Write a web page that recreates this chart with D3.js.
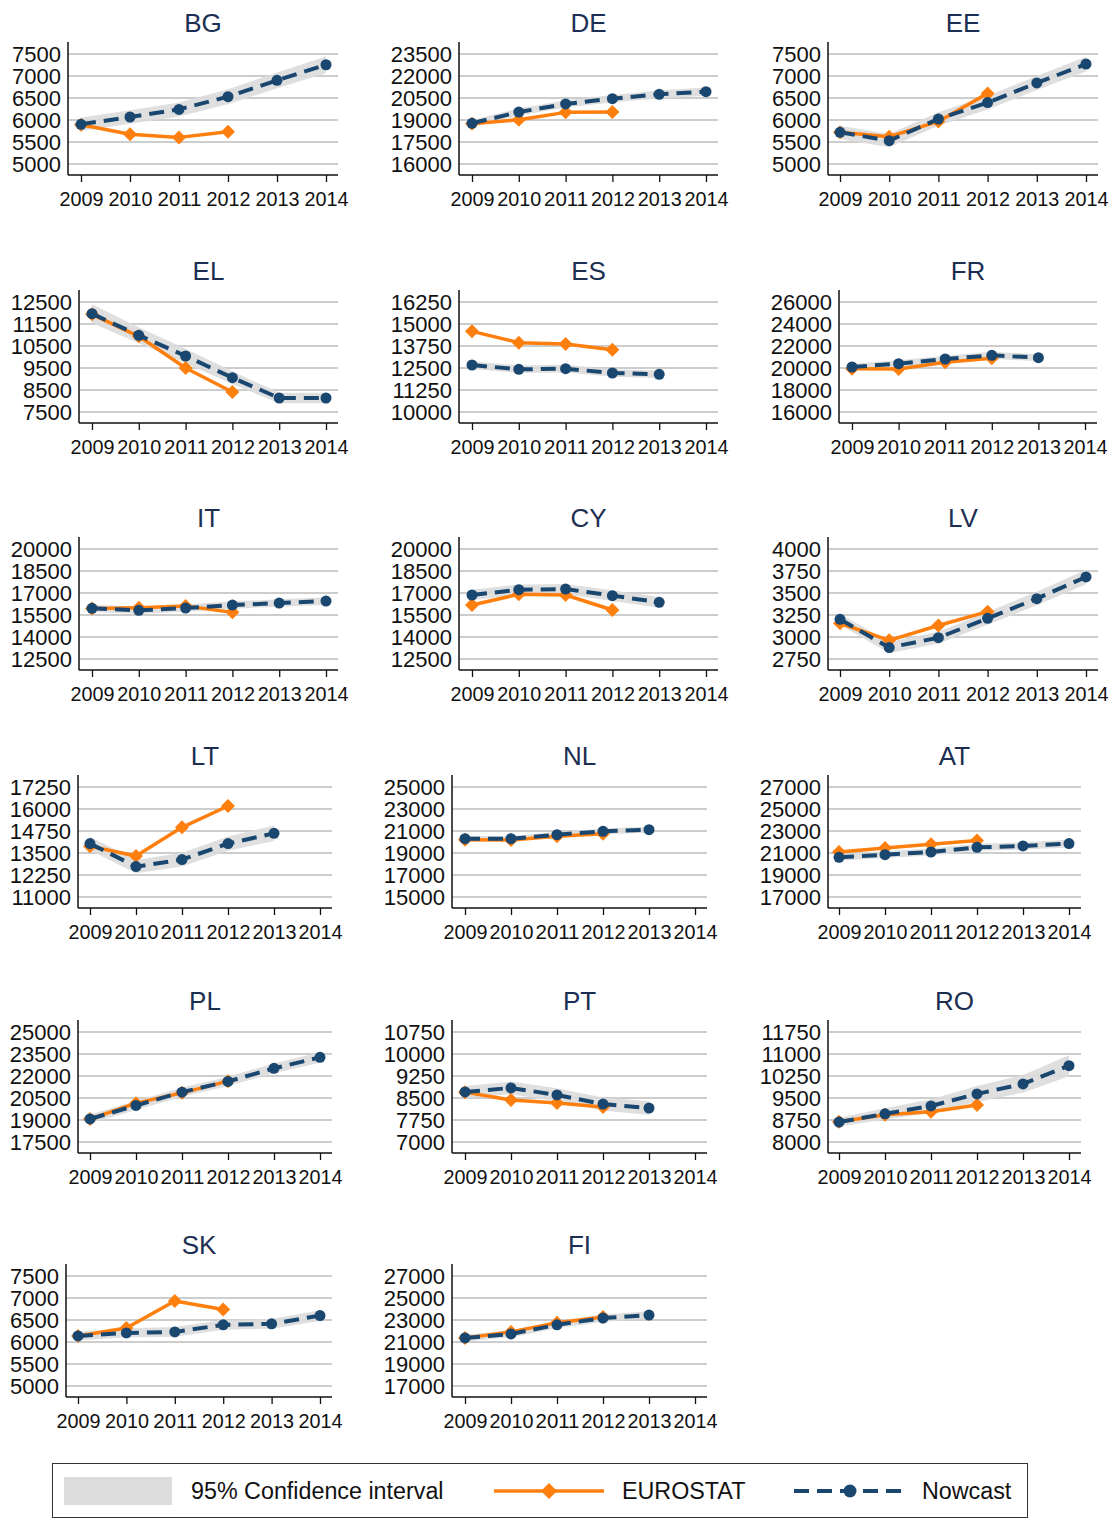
<!DOCTYPE html>
<html>
<head>
<meta charset="utf-8">
<script src="https://cdn.jsdelivr.net/npm/d3@7"></script>
<style>
  body { margin: 0; background: #fff; }
  svg { display: block; font-family: "Liberation Sans", Arial, sans-serif; }
</style>
</head>
<body>
<div id="chart"></div>
<script>
// ---- data ----
const years = [2009, 2010, 2011, 2012, 2013, 2014];
const countries = ["BG", "DE", "EE", "EL", "ES", "FR", "IT", "CY", "LV", "LT", "NL", "AT", "PL", "PT", "RO", "SK", "FI"];

const yTicks = [
  [5000, 5500, 6000, 6500, 7000, 7500],
  [16000, 17500, 19000, 20500, 22000, 23500],
  [5000, 5500, 6000, 6500, 7000, 7500],
  [7500, 8500, 9500, 10500, 11500, 12500],
  [10000, 11250, 12500, 13750, 15000, 16250],
  [16000, 18000, 20000, 22000, 24000, 26000],
  [12500, 14000, 15500, 17000, 18500, 20000],
  [12500, 14000, 15500, 17000, 18500, 20000],
  [2750, 3000, 3250, 3500, 3750, 4000],
  [11000, 12250, 13500, 14750, 16000, 17250],
  [15000, 17000, 19000, 21000, 23000, 25000],
  [17000, 19000, 21000, 23000, 25000, 27000],
  [17500, 19000, 20500, 22000, 23500, 25000],
  [7000, 7750, 8500, 9250, 10000, 10750],
  [8000, 8750, 9500, 10250, 11000, 11750],
  [5000, 5500, 6000, 6500, 7000, 7500],
  [17000, 19000, 21000, 23000, 25000, 27000]
];

// EUROSTAT values 2009-2012
const eurostat = [
  [5890, 5676, 5605, 5733],
  [18750, 19020, 19520, 19540],
  [5720, 5620, 5967, 6605],
  [11940, 10940, 9500, 8410],
  [14583, 13940, 13864, 13542],
  [19940, 19910, 20515, 20880],
  [15950, 15997, 16110, 15680],
  [16178, 16910, 16864, 15840],
  [3156, 2962, 3131, 3288],
  [13881, 13329, 14960, 16171],
  [20210, 20180, 20512, 20756],
  [21091, 21457, 21793, 22128],
  [19060, 20150, 20850, 21650],
  [8700, 8430, 8330, 8190],
  [8690, 8930, 9030, 9260],
  [6137, 6320, 6930, 6740],
  [21370, 21920, 22760, 23280]
];

// Nowcast values 2009-2014 (null = not shown)
const nowcast = [
  [5902, 6068, 6241, 6530, 6902, 7256],
  [18774, 19542, 20093, 20455, 20750, 20930],
  [5721, 5530, 6023, 6395, 6842, 7271],
  [11970, 10985, 10045, 9060, 8136, 8136],
  [12670, 12424, 12462, 12216, 12140, null],
  [20090, 20394, 20818, 21150, 20940, null],
  [15952, 15816, 15975, 16178, 16314, 16450],
  [16864, 17226, 17270, 16820, 16367, null],
  [3201, 2880, 2992, 3212, 3436, 3682],
  [14033, 12726, 13126, 14033, 14617, null],
  [20300, 20300, 20665, 20970, 21120, null],
  [20604, 20848, 21091, 21518, 21640, 21854],
  [19070, 19990, 20900, 21630, 22520, 23270],
  [8706, 8844, 8603, 8294, 8156, null],
  [8680, 8960, 9230, 9640, 9980, 10600],
  [6137, 6206, 6230, 6390, 6413, 6600],
  [21370, 21730, 22560, 23180, 23450, null]
];

// 95% confidence interval bounds of the nowcast
const ciLower = [
  [5750, 5915, 6080, 6360, 6720, 7065],
  [18550, 19300, 19850, 20200, 20480, 20640],
  [5570, 5380, 5870, 6240, 6680, 7100],
  [11550, 10620, 9720, 8770, 7900, 7900],
  [12450, 12210, 12250, 12000, 11920, null],
  [19790, 20090, 20510, 20830, 20620, null],
  [15700, 15570, 15730, 15930, 16060, 16190],
  [16500, 16880, 16920, 16460, 16000, null],
  [3140, 2815, 2925, 3140, 3360, 3600],
  [13650, 12350, 12740, 13630, 14180, null],
  [20050, 20050, 20410, 20710, 20850, null],
  [20300, 20540, 20780, 21200, 21310, 21510],
  [18770, 19680, 20590, 21310, 22180, 22910],
  [8500, 8630, 8380, 8070, 7920, null],
  [8530, 8770, 9000, 9370, 9680, 10240],
  [6040, 6100, 6120, 6280, 6300, 6480],
  [21070, 21420, 22240, 22850, 23110, null]
];
const ciUpper = [
  [6055, 6220, 6400, 6700, 7080, 7445],
  [19000, 19790, 20340, 20710, 21020, 21220],
  [5870, 5680, 6175, 6550, 7000, 7440],
  [12400, 11350, 10370, 9350, 8370, 8370],
  [12890, 12640, 12680, 12430, 12360, null],
  [20390, 20700, 21120, 21470, 21260, null],
  [16200, 16060, 16220, 16430, 16570, 16710],
  [17230, 17580, 17620, 17180, 16730, null],
  [3260, 2945, 3060, 3285, 3515, 3765],
  [14420, 13100, 13510, 14440, 15060, null],
  [20550, 20550, 20920, 21230, 21390, null],
  [20910, 21150, 21400, 21830, 21970, 22200],
  [19370, 20300, 21210, 21950, 22860, 23630],
  [8910, 9060, 8830, 8520, 8390, null],
  [8830, 9150, 9460, 9910, 10280, 10960],
  [6235, 6310, 6340, 6500, 6525, 6720],
  [21670, 22040, 22880, 23510, 23790, null]
];

// ---- layout (pixel geometry of each small panel) ----
const rowTop = [54, 302, 549, 787, 1032, 1276];
const gridSpan = 110;
// [y-axis x, x of first year, x of last year]
const panelX = [
  [68, 81, 326], [459, 472, 706], [828, 840, 1086],
  [79, 92, 326], [459, 472, 706], [839, 852, 1085],
  [79, 92, 326], [459, 472, 706], [828, 840, 1086],
  [78, 90, 320], [452, 465, 695], [828, 839, 1069],
  [78, 90, 320], [452, 465, 695], [828, 839, 1069],
  [66, 78, 320], [452, 465, 695]
];

const ORANGE = "#ff7f0e";
const NAVY = "#1a476f";
const TITLE = "#1c2e52";
const BAND = "#dcdcdc";

const width = 1115, height = 1518;
const svg = d3.select("#chart").append("svg")
  .attr("width", width)
  .attr("height", height);

function diamond(r) {
  return `M0,${-r}L${r},0L0,${r}L${-r},0Z`;
}

countries.forEach((name, i) => {
  const row = Math.floor(i / 3);
  const [axisX, x0, x1] = panelX[i];
  const top = rowTop[row];
  const bottom = top + gridSpan;
  const ticks = yTicks[i];

  const x = d3.scaleLinear().domain([years[0], years[years.length - 1]]).range([x0, x1]);
  const y = d3.scaleLinear().domain([ticks[0], ticks[ticks.length - 1]]).range([bottom, top]);
  const right = x1 + 12;
  const axisY = bottom + 11;

  const g = svg.append("g").attr("class", "panel");

  // gridlines
  g.append("g").selectAll("line")
    .data(ticks)
    .join("line")
    .attr("x1", axisX).attr("x2", right)
    .attr("y1", d => y(d)).attr("y2", d => y(d))
    .attr("stroke", "#bcbcbc")
    .attr("stroke-width", 1.3);

  // y axis
  const yAxis = g.append("g")
    .attr("transform", `translate(${axisX},0)`)
    .call(d3.axisLeft(y).tickValues(ticks).tickSize(0).tickPadding(7).tickFormat(d3.format("d")));
  yAxis.select(".domain").remove();
  yAxis.selectAll("text").attr("font-size", 22).attr("fill", "#111")
    .attr("font-family", "Liberation Sans, Arial, sans-serif");

  // x axis
  const xAxis = g.append("g")
    .attr("transform", `translate(0,${axisY})`)
    .call(d3.axisBottom(x).tickValues(years).tickSize(7).tickPadding(9).tickFormat(d3.format("d")));
  xAxis.select(".domain").remove();
  xAxis.selectAll(".tick line").attr("stroke", "#111").attr("stroke-width", 1.3);
  xAxis.selectAll("text").attr("font-size", 21).attr("fill", "#111")
    .attr("font-family", "Liberation Sans, Arial, sans-serif")
    .attr("textLength", 44)
    .attr("lengthAdjust", "spacingAndGlyphs");

  // axis lines
  g.append("line")
    .attr("x1", axisX).attr("x2", axisX)
    .attr("y1", top - 12).attr("y2", axisY)
    .attr("stroke", "#111").attr("stroke-width", 1.5);
  g.append("line")
    .attr("x1", axisX).attr("x2", right)
    .attr("y1", axisY).attr("y2", axisY)
    .attr("stroke", "#111").attr("stroke-width", 1.5);

  // title
  g.append("text")
    .attr("x", (axisX + right) / 2)
    .attr("y", top - 22)
    .attr("text-anchor", "middle")
    .attr("font-size", 26)
    .attr("fill", TITLE)
    .text(name);

  // confidence band
  const bandData = years.map((yr, k) => ({ yr, lo: ciLower[i][k], hi: ciUpper[i][k] }));
  g.append("path")
    .datum(bandData)
    .attr("fill", BAND)
    .attr("opacity", 0.9)
    .attr("d", d3.area()
      .defined(d => d.lo != null && d.hi != null)
      .x(d => x(d.yr))
      .y0(d => y(d.lo))
      .y1(d => y(d.hi)));

  // EUROSTAT
  const eu = eurostat[i].map((v, k) => ({ yr: years[k], v }));
  g.append("path")
    .datum(eu)
    .attr("fill", "none")
    .attr("stroke", ORANGE)
    .attr("stroke-width", 3.5)
    .attr("stroke-linejoin", "round")
    .attr("d", d3.line().x(d => x(d.yr)).y(d => y(d.v)));
  g.append("g").selectAll("path")
    .data(eu)
    .join("path")
    .attr("transform", d => `translate(${x(d.yr)},${y(d.v)})`)
    .attr("d", diamond(7))
    .attr("fill", ORANGE);

  // Nowcast
  const nc = nowcast[i].map((v, k) => ({ yr: years[k], v })).filter(d => d.v != null);
  g.append("path")
    .datum(nc)
    .attr("fill", "none")
    .attr("stroke", NAVY)
    .attr("stroke-width", 4)
    .attr("stroke-dasharray", "15,8")
    .attr("d", d3.line().x(d => x(d.yr)).y(d => y(d.v)));
  g.append("g").selectAll("circle")
    .data(nc)
    .join("circle")
    .attr("cx", d => x(d.yr))
    .attr("cy", d => y(d.v))
    .attr("r", 5.5)
    .attr("fill", NAVY);
});

// ---- legend ----
const legend = svg.append("g");
legend.append("rect")
  .attr("x", 52.5).attr("y", 1463.5)
  .attr("width", 975).attr("height", 54)
  .attr("fill", "#fff")
  .attr("stroke", "#333").attr("stroke-width", 1);

const ly = 1491;
legend.append("rect")
  .attr("x", 64).attr("y", ly - 14)
  .attr("width", 108).attr("height", 28)
  .attr("fill", BAND);
legend.append("text")
  .attr("x", 191).attr("y", ly + 8)
  .attr("font-size", 23.3).attr("fill", "#111")
  .text("95% Confidence interval");

legend.append("line")
  .attr("x1", 494).attr("x2", 604)
  .attr("y1", ly).attr("y2", ly)
  .attr("stroke", ORANGE).attr("stroke-width", 3.5);
legend.append("path")
  .attr("transform", `translate(549,${ly})`)
  .attr("d", diamond(8))
  .attr("fill", ORANGE);
legend.append("text")
  .attr("x", 622).attr("y", ly + 8)
  .attr("font-size", 23.3).attr("fill", "#111")
  .text("EUROSTAT");

legend.append("line")
  .attr("x1", 794).attr("x2", 906)
  .attr("y1", ly).attr("y2", ly)
  .attr("stroke", NAVY).attr("stroke-width", 4)
  .attr("stroke-dasharray", "15,8");
legend.append("circle")
  .attr("cx", 850).attr("cy", ly).attr("r", 6.5)
  .attr("fill", NAVY);
legend.append("text")
  .attr("x", 922).attr("y", ly + 8)
  .attr("font-size", 23.3).attr("fill", "#111")
  .text("Nowcast");
</script>
</body>
</html>
